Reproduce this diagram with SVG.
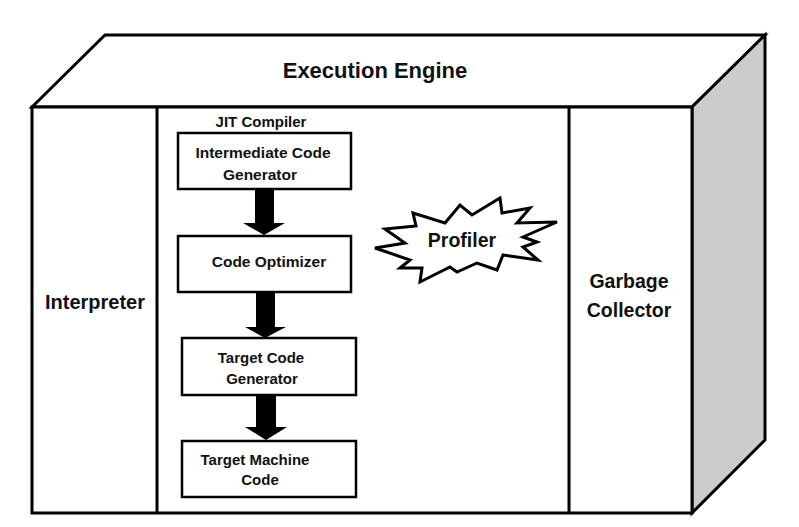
<svg xmlns="http://www.w3.org/2000/svg" width="799" height="527" viewBox="0 0 799 527">
<style>
.ln{fill:none;stroke:#000;stroke-width:3;stroke-linejoin:miter}
.face{fill:#fff;stroke:#000;stroke-width:3;stroke-linejoin:miter}
.box{fill:#fff;stroke:#000;stroke-width:2.5}
.t{font-family:"Liberation Sans",Arial,sans-serif;font-weight:bold;fill:#111;text-anchor:middle}
.arr{fill:#000;stroke:none}
</style>
<rect width="799" height="527" fill="#fff"/>
<g id="engine">
<polygon class="face" points="32,107 105,35 765,35 692,107"/>
<polygon class="face" style="fill:#cccccc" points="692,107 765,35 765,440 692,513"/>
<rect class="face" x="32" y="107" width="660" height="406"/>
<text class="t" x="375" y="78" font-size="22">Execution Engine</text>
</g>
<g id="interpreter">
<line class="ln" x1="157" y1="107" x2="157" y2="513"/>
<text class="t" x="95" y="309" font-size="20">Interpreter</text>
</g>
<g id="garbage-collector">
<line class="ln" x1="569" y1="107" x2="569" y2="513"/>
<text class="t" x="629" y="288" font-size="19.5">Garbage</text>
<text class="t" x="629" y="317" font-size="19.5">Collector</text>
</g>
<g id="jit-compiler">
<text class="t" x="261" y="127" font-size="15">JIT Compiler</text>
</g>
<g id="intermediate-code-generator">
<rect class="box" x="178" y="133" width="173" height="56"/>
<text class="t" x="263" y="158" font-size="15.5">Intermediate Code</text>
<text class="t" x="260" y="180" font-size="15.5">Generator</text>
</g>
<g id="code-optimizer">
<rect class="box" x="178" y="236" width="173" height="56"/>
<text class="t" x="269" y="267" font-size="15.5">Code Optimizer</text>
</g>
<g id="target-code-generator">
<rect class="box" x="182" y="338" width="174" height="57"/>
<text class="t" x="261" y="363" font-size="15">Target Code</text>
<text class="t" x="262" y="384" font-size="15">Generator</text>
</g>
<g id="target-machine-code">
<rect class="box" x="182" y="441" width="174" height="56"/>
<text class="t" x="255" y="465" font-size="15">Target Machine</text>
<text class="t" x="260" y="485" font-size="15">Code</text>
</g>
<g id="profiler">
<polygon class="face" points="385,229 416,226 413,213 445,223 460,205 472,215 500,198 502,213 530,208 517,223 557,222 523,237 537,242 523,247 538,260 503,255 497,270 477,263 457,272 450,267 420,282 422,268 400,268 410,260 375,248 405,243"/>
<text class="t" x="462" y="247" font-size="19.5">Profiler</text>
</g>
<g id="connectors">
<polygon class="arr" points="255,189 274,189 274,223 285,223 264,235 243,223 255,223"/>
<polygon class="arr" points="256,292 275,292 275,327 286,327 265,338 245,327 256,327"/>
<polygon class="arr" points="256,395 276,395 276,427 287,427 266,440 245,427 256,427"/>
</g>
</svg>
